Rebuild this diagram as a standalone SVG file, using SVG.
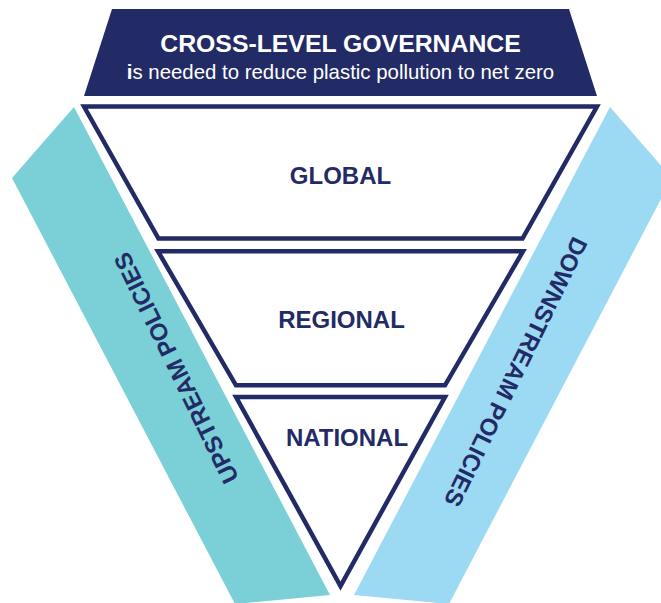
<svg xmlns="http://www.w3.org/2000/svg" width="661" height="603" viewBox="0 0 661 603">
<style>
.lvl{fill:#ffffff;stroke:#232b66;stroke-width:4.5;stroke-linejoin:miter}
.lbl{font-family:"Liberation Sans",Arial,sans-serif;font-weight:bold;font-size:24px;fill:#232b66;text-anchor:middle}
.ban{font-family:"Liberation Sans",Arial,sans-serif;fill:#ffffff;text-anchor:middle}
</style>
<rect width="661" height="603" fill="#ffffff"/>
<g id="upstream">
<polygon points="74,107 330,595 235,604 12,178" fill="#7bcfd7"/>
<text class="lbl" transform="translate(176,368) rotate(-116)" x="0" y="8.5">UPSTREAM POLICIES</text>
</g>
<g id="downstream">
<polygon points="610,107 672,178 449,604 354,595" fill="#9cd9f3"/>
<text class="lbl" transform="translate(516,372) rotate(116)" x="0" y="8.5">DOWNSTREAM POLICIES</text>
</g>
<g id="banner">
<polygon points="112,9 569,9 597,96 84,96" fill="#232b66"/>
<text class="ban" x="340.5" y="52" font-size="24.8" font-weight="bold">CROSS-LEVEL GOVERNANCE</text>
<text class="ban" x="340.5" y="79" font-size="20.4"><tspan font-weight="bold">i</tspan>s needed to reduce plastic pollution to net zero</text>
</g>
<g id="global">
<polygon class="lvl" points="84,106.5 597,106.5 522.5,238.5 158.5,238.5"/>
<text class="lbl" x="340.5" y="184">GLOBAL</text>
</g>
<g id="regional">
<polygon class="lvl" points="158,251.3 523,251.3 445,385.3 236,385.3"/>
<text class="lbl" x="341.5" y="327.7">REGIONAL</text>
</g>
<g id="national">
<polygon class="lvl" points="236,397 445,397 340.5,586"/>
<text class="lbl" x="347" y="446">NATIONAL</text>
</g>
<g id="connectors"/>
</svg>
